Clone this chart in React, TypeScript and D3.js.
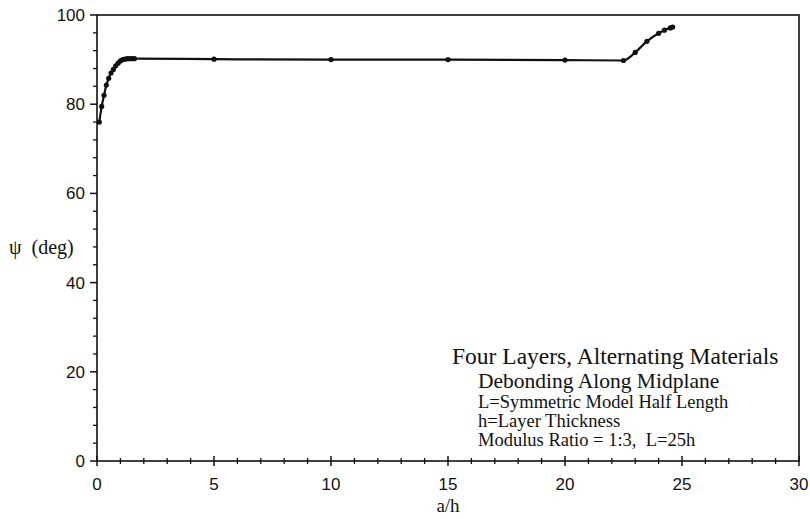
import React from 'react'
import * as d3 from 'd3'

// a/h values and the mode mixity angle psi (deg)
const aOverH = [
  0.1, 0.2, 0.3, 0.4, 0.5, 0.6, 0.7, 0.8, 0.9, 1.0, 1.1, 1.2, 1.3, 1.4, 1.5, 1.6,
  5, 10, 15, 20, 22.5, 23, 23.5, 24, 24.25, 24.5, 24.6,
]
const psi = [
  76, 79.5, 82, 84.3, 85.8, 87, 87.8, 88.6, 89.2, 89.7, 90, 90.1, 90.2, 90.2, 90.2, 90.2,
  90.1, 90, 90, 89.9, 89.8, 91.6, 94.1, 95.9, 96.6, 97.1, 97.3,
]
const xTicks = [0, 5, 10, 15, 20, 25, 30]
const yTicks = [0, 20, 40, 60, 80, 100]
const titleLines = ['Four Layers, Alternating Materials', 'Debonding Along Midplane']
const noteLines = [
  'L=Symmetric Model Half Length',
  'h=Layer Thickness',
  'Modulus Ratio = 1:3,  L=25h',
]

const W = 810
const H = 519
const left = 97
const right = 799
const top = 15
const bottom = 461

const sans = '"Liberation Sans", Arial, sans-serif'
const serif = '"Liberation Serif", "Times New Roman", serif'

const App = () => {
  const x = d3.scaleLinear().domain([0, 30]).range([left, right])
  const y = d3.scaleLinear().domain([0, 100]).range([bottom, top])
  const line = d3
    .line<number>()
    .x((d, i) => x(aOverH[i]))
    .y((d) => y(d))
    .curve(d3.curveMonotoneX)

  const xMinor = d3.range(0, 31, 1).filter((v) => v % 5 !== 0)
  const yMinor = d3.range(0, 101, 4).filter((v) => v % 20 !== 0)

  return (
    <svg
      width={W}
      height={H}
      style={{position: 'absolute', left: 0, top: 0, background: '#fff'}}
    >
      {/* frame */}
      <rect x={left} y={top} width={right - left} height={bottom - top} fill="none" stroke="#111" strokeWidth={1.6} />

      {/* y ticks */}
      {yTicks.map((t) => (
        <g key={'y' + t}>
          <line x1={left - 7} x2={left} y1={y(t)} y2={y(t)} stroke="#111" strokeWidth={1.5} />
          <text x={left - 12} y={y(t) + 6} textAnchor="end" fontFamily={sans} fontSize={17} fill="#111">
            {t}
          </text>
        </g>
      ))}
      {yMinor.map((t) => (
        <line key={'ym' + t} x1={left - 4} x2={left} y1={y(t)} y2={y(t)} stroke="#111" strokeWidth={1.3} />
      ))}

      {/* x ticks */}
      {xTicks.map((t) => (
        <g key={'x' + t}>
          <line x1={x(t)} x2={x(t)} y1={bottom - 5} y2={bottom + 5} stroke="#111" strokeWidth={1.5} />
          <text x={x(t)} y={bottom + 29} textAnchor="middle" fontFamily={sans} fontSize={17} fill="#111">
            {t}
          </text>
        </g>
      ))}
      {xMinor.map((t) => (
        <line key={'xm' + t} x1={x(t)} x2={x(t)} y1={bottom - 3} y2={bottom + 3} stroke="#111" strokeWidth={1.3} />
      ))}

      {/* axis titles */}
      <text x={x(15)} y={H - 7} textAnchor="middle" fontFamily={serif} fontSize={19} fill="#111">
        a/h
      </text>
      <text x={9} y={y(48) + 7} fontFamily={serif} fontSize={20} fill="#111" style={{whiteSpace: 'pre'}}>
        {'ψ  (deg)'}
      </text>

      {/* curve */}
      <path d={line(psi) || ''} fill="none" stroke="#111" strokeWidth={2.2} />
      {psi.map((v, i) => (
        <circle key={'p' + i} cx={x(aOverH[i])} cy={y(v)} r={2.6} fill="#111" />
      ))}

      {/* annotation */}
      <text x={452} y={364} fontFamily={serif} fontSize={23.5} fill="#111">
        {titleLines[0]}
      </text>
      <text x={478} y={388} fontFamily={serif} fontSize={21.5} fill="#111">
        {titleLines[1]}
      </text>
      {noteLines.map((s, i) => (
        <text key={s} x={478} y={408 + i * 19} fontFamily={serif} fontSize={18.5} fill="#111" style={{whiteSpace: 'pre'}}>
          {s}
        </text>
      ))}
    </svg>
  )
}

export default App
